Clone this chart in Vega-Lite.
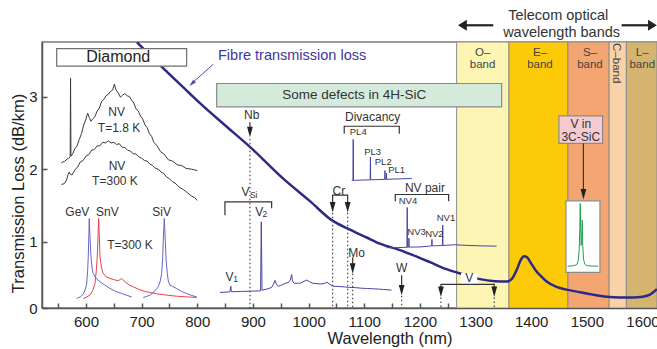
{
"$schema": "https://vega.github.io/schema/vega-lite/v6.json",
"width": 615, "height": 266,
"autosize": {"type": "none"},
"padding": {"left": 42, "top": 42, "right": 0, "bottom": 41},
"config": {"font": "Liberation Sans", "view": {"stroke": "#7a7a7a", "strokeWidth": 1.5}},
"datasets": {
"bands": [
{"b":"O","x":1266,"x2":1360},{"b":"E","x":1360,"x2":1466},{"b":"S","x":1466,"x2":1540},{"b":"C","x":1540,"x2":1571},{"b":"L","x":1571,"x2":1626}
],
"fibre": [
{"x":691.6,"y":3.747},{"x":733,"y":3.431},{"x":785,"y":3.052},{"x":804.8,"y":2.908},{"x":849.7,"y":2.605},{"x":894.6,"y":2.307},{"x":957.5,"y":1.849},{"x":1002.4,"y":1.56},{"x":1041.4,"y":1.299},{"x":1074.3,"y":1.168},{"x":1104.3,"y":1.06},{"x":1128.2,"y":0.975},{"x":1164.1,"y":0.886},{"x":1187.5,"y":0.817},{"x":1218,"y":0.721},{"x":1248,"y":0.624},{"x":1277.9,"y":0.552},{"x":1308,"y":0.487},{"x":1334.9,"y":0.459},{"x":1355.8,"y":0.453},{"x":1364.8,"y":0.487},{"x":1374.4,"y":0.624},{"x":1381.5,"y":0.755},{"x":1386.9,"y":0.803},{"x":1392.3,"y":0.79},{"x":1399.5,"y":0.707},{"x":1408.5,"y":0.604},{"x":1417.5,"y":0.528},{"x":1428.2,"y":0.45},{"x":1445.6,"y":0.381},{"x":1463.6,"y":0.343},{"x":1487.5,"y":0.308},{"x":1510.9,"y":0.274},{"x":1535.5,"y":0.246},{"x":1559.4,"y":0.235},{"x":1582.7,"y":0.235},{"x":1600.7,"y":0.246},{"x":1613.3,"y":0.274},{"x":1625.9,"y":0.349}
],
"boxes": [
{"id":"diamond","x":547.4,"x2":780.9,"y":3.66,"y2":3.417},
{"id":"sic","x":834.8,"x2":1346.9,"y":3.179,"y2":2.857},
{"id":"v3c","x":1449.8,"x2":1528.3,"y":2.733,"y2":2.354},
{"id":"inset","x":1462.4,"x2":1523.5,"y":1.564,"y2":0.579},
{"id":"vbox","x":1275,"x2":1302,"y":0.565,"y2":0.428}
],
"spec": [
{"s":"nv18","x":556,"y":2.09},{"s":"nv18","x":562,"y":2.11},{"s":"nv18","x":566,"y":2.14},{"s":"nv18","x":569,"y":2.15},{"s":"nv18","x":571.6,"y":2.17},{"s":"nv18","x":572.3,"y":3.25},{"s":"nv18","x":573,"y":2.18},{"s":"nv18","x":576,"y":2.21},{"s":"nv18","x":580,"y":2.28},{"s":"nv18","x":584,"y":2.32},{"s":"nv18","x":588,"y":2.41},{"s":"nv18","x":592,"y":2.49},{"s":"nv18","x":596,"y":2.61},{"s":"nv18","x":600,"y":2.69},{"s":"nv18","x":603,"y":2.77},{"s":"nv18","x":606,"y":2.71},{"s":"nv18","x":609,"y":2.66},{"s":"nv18","x":612,"y":2.69},{"s":"nv18","x":616,"y":2.72},{"s":"nv18","x":620,"y":2.80},{"s":"nv18","x":624,"y":2.84},{"s":"nv18","x":628,"y":2.93},{"s":"nv18","x":632,"y":2.96},{"s":"nv18","x":636,"y":3.01},{"s":"nv18","x":640,"y":3.03},{"s":"nv18","x":644,"y":3.07},{"s":"nv18","x":648,"y":3.09},{"s":"nv18","x":651,"y":3.17},{"s":"nv18","x":654,"y":3.09},{"s":"nv18","x":658,"y":3.05},{"s":"nv18","x":662,"y":2.99},{"s":"nv18","x":666,"y":3.02},{"s":"nv18","x":670,"y":3.04},{"s":"nv18","x":674,"y":3.01},{"s":"nv18","x":678,"y":3.00},{"s":"nv18","x":682,"y":2.95},{"s":"nv18","x":686,"y":2.91},{"s":"nv18","x":690,"y":2.83},{"s":"nv18","x":694,"y":2.80},{"s":"nv18","x":698,"y":2.73},{"s":"nv18","x":702,"y":2.69},{"s":"nv18","x":706,"y":2.61},{"s":"nv18","x":710,"y":2.57},{"s":"nv18","x":714,"y":2.49},{"s":"nv18","x":718,"y":2.45},{"s":"nv18","x":722,"y":2.37},{"s":"nv18","x":728,"y":2.32},{"s":"nv18","x":734,"y":2.24},{"s":"nv18","x":740,"y":2.21},{"s":"nv18","x":748,"y":2.13},{"s":"nv18","x":756,"y":2.11},{"s":"nv18","x":764,"y":2.06},{"s":"nv18","x":772,"y":2.05},{"s":"nv18","x":780,"y":2.01},{"s":"nv18","x":790,"y":2.00},{"s":"nv18","x":800,"y":1.98},
{"s":"nv300","x":556,"y":1.79},{"s":"nv300","x":561,"y":1.80},{"s":"nv300","x":565,"y":1.85},{"s":"nv300","x":568,"y":1.93},{"s":"nv300","x":570,"y":1.96},{"s":"nv300","x":572,"y":1.93},{"s":"nv300","x":575,"y":1.92},{"s":"nv300","x":580,"y":1.99},{"s":"nv300","x":585,"y":2.03},{"s":"nv300","x":590,"y":2.10},{"s":"nv300","x":595,"y":2.12},{"s":"nv300","x":600,"y":2.18},{"s":"nv300","x":605,"y":2.20},{"s":"nv300","x":610,"y":2.26},{"s":"nv300","x":615,"y":2.27},{"s":"nv300","x":620,"y":2.32},{"s":"nv300","x":625,"y":2.32},{"s":"nv300","x":630,"y":2.37},{"s":"nv300","x":635,"y":2.36},{"s":"nv300","x":640,"y":2.39},{"s":"nv300","x":645,"y":2.36},{"s":"nv300","x":650,"y":2.37},{"s":"nv300","x":655,"y":2.34},{"s":"nv300","x":660,"y":2.35},{"s":"nv300","x":665,"y":2.30},{"s":"nv300","x":670,"y":2.30},{"s":"nv300","x":675,"y":2.26},{"s":"nv300","x":680,"y":2.25},{"s":"nv300","x":685,"y":2.21},{"s":"nv300","x":690,"y":2.21},{"s":"nv300","x":695,"y":2.17},{"s":"nv300","x":700,"y":2.15},{"s":"nv300","x":705,"y":2.12},{"s":"nv300","x":710,"y":2.11},{"s":"nv300","x":715,"y":2.07},{"s":"nv300","x":720,"y":2.05},{"s":"nv300","x":725,"y":2.01},{"s":"nv300","x":730,"y":2.00},{"s":"nv300","x":735,"y":1.96},{"s":"nv300","x":740,"y":1.94},{"s":"nv300","x":745,"y":1.89},{"s":"nv300","x":750,"y":1.87},{"s":"nv300","x":755,"y":1.83},{"s":"nv300","x":760,"y":1.81},{"s":"nv300","x":765,"y":1.77},{"s":"nv300","x":770,"y":1.74},{"s":"nv300","x":775,"y":1.72},{"s":"nv300","x":780,"y":1.69},{"s":"nv300","x":785,"y":1.66},{"s":"nv300","x":790,"y":1.63},{"s":"nv300","x":795,"y":1.61},{"s":"nv300","x":800,"y":1.57},
{"s":"gev","x":583.3,"y":0.221},{"s":"gev","x":590,"y":0.245},{"s":"gev","x":595.1,"y":0.281},{"s":"gev","x":599,"y":0.35},{"s":"gev","x":601.3,"y":0.428},{"s":"gev","x":603,"y":0.6},{"s":"gev","x":604.1,"y":0.794},{"s":"gev","x":605.2,"y":1.1},{"s":"gev","x":605.9,"y":1.322},{"s":"gev","x":607,"y":1.1},{"s":"gev","x":609,"y":0.794},{"s":"gev","x":611,"y":0.64},{"s":"gev","x":613.1,"y":0.565},{"s":"gev","x":618,"y":0.5},{"s":"gev","x":625.2,"y":0.45},{"s":"gev","x":633,"y":0.41},{"s":"gev","x":643.1,"y":0.359},{"s":"gev","x":653,"y":0.32},{"s":"gev","x":664.1,"y":0.29},{"s":"gev","x":673,"y":0.265},{"s":"gev","x":682.1,"y":0.243},
{"s":"snv","x":595.1,"y":0.221},{"s":"snv","x":601,"y":0.24},{"s":"snv","x":607.2,"y":0.267},{"s":"snv","x":612,"y":0.33},{"s":"snv","x":616.2,"y":0.428},{"s":"snv","x":618.5,"y":0.6},{"s":"snv","x":620.3,"y":0.794},{"s":"snv","x":621.8,"y":1.1},{"s":"snv","x":622.8,"y":1.322},{"s":"snv","x":623.8,"y":1.1},{"s":"snv","x":625.2,"y":0.794},{"s":"snv","x":628,"y":0.64},{"s":"snv","x":631.1,"y":0.565},{"s":"snv","x":636,"y":0.52},{"s":"snv","x":643.1,"y":0.497},{"s":"snv","x":650,"y":0.48},{"s":"snv","x":658,"y":0.464},{"s":"snv","x":664.1,"y":0.497},{"s":"snv","x":670.1,"y":0.45},{"s":"snv","x":677,"y":0.41},{"s":"snv","x":685,"y":0.381},{"s":"snv","x":697,"y":0.34},{"s":"snv","x":709.1,"y":0.312},{"s":"snv","x":727,"y":0.285},{"s":"snv","x":745,"y":0.267},{"s":"snv","x":763,"y":0.252},{"s":"snv","x":781,"y":0.243},{"s":"snv","x":798.9,"y":0.235},
{"s":"siv","x":702.9,"y":0.235},{"s":"siv","x":709,"y":0.25},{"s":"siv","x":715,"y":0.267},{"s":"siv","x":722,"y":0.31},{"s":"siv","x":729.9,"y":0.381},{"s":"siv","x":733.5,"y":0.46},{"s":"siv","x":736,"y":0.565},{"s":"siv","x":738,"y":0.8},{"s":"siv","x":738.9,"y":1.023},{"s":"siv","x":740.7,"y":1.322},{"s":"siv","x":742.5,"y":1.023},{"s":"siv","x":744,"y":0.75},{"s":"siv","x":746.1,"y":0.565},{"s":"siv","x":748,"y":0.46},{"s":"siv","x":750.9,"y":0.404},{"s":"siv","x":756,"y":0.385},{"s":"siv","x":762.9,"y":0.359},{"s":"siv","x":771,"y":0.32},{"s":"siv","x":781,"y":0.29},{"s":"siv","x":790,"y":0.262},{"s":"siv","x":798.9,"y":0.243},
{"s":"sic","x":840.7,"y":0.304},{"s":"sic","x":850,"y":0.308},{"s":"sic","x":858.5,"y":0.312},{"s":"sic","x":860.3,"y":0.39},{"s":"sic","x":861.2,"y":0.314},{"s":"sic","x":880,"y":0.318},{"s":"sic","x":900,"y":0.322},{"s":"sic","x":913.8,"y":0.326},{"s":"sic","x":915,"y":1.275},{"s":"sic","x":916.3,"y":0.335},{"s":"sic","x":925,"y":0.35},{"s":"sic","x":933.6,"y":0.373},{"s":"sic","x":937,"y":0.42},{"s":"sic","x":939.6,"y":0.47},{"s":"sic","x":942,"y":0.42},{"s":"sic","x":945.5,"y":0.39},{"s":"sic","x":950,"y":0.40},{"s":"sic","x":957.5,"y":0.428},{"s":"sic","x":963,"y":0.44},{"s":"sic","x":967,"y":0.47},{"s":"sic","x":969.6,"y":0.55},{"s":"sic","x":971,"y":0.46},{"s":"sic","x":974,"y":0.43},{"s":"sic","x":980,"y":0.43},{"s":"sic","x":985,"y":0.432},{"s":"sic","x":990,"y":0.45},{"s":"sic","x":996.5,"y":0.475},{"s":"sic","x":1002,"y":0.45},{"s":"sic","x":1008,"y":0.43},{"s":"sic","x":1015,"y":0.425},{"s":"sic","x":1022,"y":0.42},{"s":"sic","x":1029,"y":0.43},{"s":"sic","x":1033,"y":0.445},{"s":"sic","x":1037,"y":0.42},{"s":"sic","x":1044,"y":0.39},{"s":"sic","x":1055,"y":0.385},{"s":"sic","x":1065,"y":0.38},{"s":"sic","x":1074,"y":0.373},{"s":"sic","x":1085,"y":0.37},{"s":"sic","x":1095,"y":0.362},{"s":"sic","x":1104,"y":0.359},{"s":"sic","x":1115,"y":0.355},{"s":"sic","x":1125,"y":0.35},{"s":"sic","x":1135,"y":0.345},{"s":"sic","x":1149,"y":0.336},
{"s":"div","x":1077.4,"y":1.842},{"s":"div","x":1079.7,"y":1.845},{"s":"div","x":1080.2,"y":2.41},{"s":"div","x":1080.7,"y":1.846},{"s":"div","x":1095,"y":1.85},{"s":"div","x":1110.6,"y":1.853},{"s":"div","x":1111.1,"y":2.165},{"s":"div","x":1111.6,"y":1.854},{"s":"div","x":1125,"y":1.857},{"s":"div","x":1136.8,"y":1.86},{"s":"div","x":1137.2,"y":1.98},{"s":"div","x":1137.6,"y":1.86},{"s":"div","x":1139.5,"y":1.861},{"s":"div","x":1139.9,"y":1.945},{"s":"div","x":1140.3,"y":1.861},{"s":"div","x":1160,"y":1.866},{"s":"div","x":1185.2,"y":1.872},
{"s":"nvp","x":1140.2,"y":0.92},{"s":"nvp","x":1160,"y":0.922},{"s":"nvp","x":1176.8,"y":0.925},{"s":"nvp","x":1177.2,"y":1.473},{"s":"nvp","x":1177.6,"y":0.926},{"s":"nvp","x":1179.9,"y":0.927},{"s":"nvp","x":1180.3,"y":1.051},{"s":"nvp","x":1180.7,"y":0.928},{"s":"nvp","x":1200,"y":0.93},{"s":"nvp","x":1215,"y":0.94},{"s":"nvp","x":1221.2,"y":0.945},{"s":"nvp","x":1221.6,"y":1.033},{"s":"nvp","x":1222,"y":0.945},{"s":"nvp","x":1230,"y":0.947},{"s":"nvp","x":1240.6,"y":0.95},{"s":"nvp","x":1241,"y":1.23},{"s":"nvp","x":1241.4,"y":0.95},{"s":"nvp","x":1250,"y":0.955},{"s":"nvp","x":1262,"y":0.96},{"s":"nvp","x":1275,"y":0.955},{"s":"nvp","x":1290,"y":0.95},{"s":"nvp","x":1310,"y":0.945},{"s":"nvp","x":1337.8,"y":0.941},
{"s":"v3c","x":1465.4,"y":0.666},{"s":"v3c","x":1472,"y":0.668},{"s":"v3c","x":1478,"y":0.675},{"s":"v3c","x":1482,"y":0.69},{"s":"v3c","x":1484.5,"y":0.74},{"s":"v3c","x":1486.3,"y":0.9},{"s":"v3c","x":1487.3,"y":1.2},{"s":"v3c","x":1488.1,"y":1.528},{"s":"v3c","x":1488.9,"y":1.2},{"s":"v3c","x":1489.7,"y":0.95},{"s":"v3c","x":1490.6,"y":1.0},{"s":"v3c","x":1491.7,"y":1.298},{"s":"v3c","x":1492.6,"y":0.95},{"s":"v3c","x":1494,"y":0.76},{"s":"v3c","x":1496.5,"y":0.69},{"s":"v3c","x":1500,"y":0.672},{"s":"v3c","x":1510,"y":0.667},{"s":"v3c","x":1520.4,"y":0.666}
],
"segs": [
{"id":"nb","o":1,"x":894.6,"y":2.646},{"id":"nb","o":2,"x":894.6,"y":2.56},
{"id":"cr","o":1,"x":1043.2,"y":1.53},{"id":"cr","o":2,"x":1043.2,"y":1.643},{"id":"cr","o":3,"x":1070.2,"y":1.643},{"id":"cr","o":4,"x":1070.2,"y":1.53},
{"id":"mo","o":1,"x":1079.2,"y":0.79},{"id":"mo","o":2,"x":1079.2,"y":0.69},
{"id":"w","o":1,"x":1167.2,"y":0.542},{"id":"w","o":2,"x":1167.2,"y":0.40},
{"id":"v","o":1,"x":1237.8,"y":0.37},{"id":"v","o":2,"x":1237.8,"y":0.414},{"id":"v","o":3,"x":1333.6,"y":0.414},{"id":"v","o":4,"x":1333.6,"y":0.37},
{"id":"v3","o":1,"x":1493.8,"y":2.354},{"id":"v3","o":2,"x":1493.8,"y":1.72},
{"id":"vsi","o":1,"x":849.7,"y":1.367},{"id":"vsi","o":2,"x":849.7,"y":1.55},{"id":"vsi","o":3,"x":933.6,"y":1.55},{"id":"vsi","o":4,"x":933.6,"y":1.464},
{"id":"div","o":1,"x":1064,"y":2.488},{"id":"div","o":2,"x":1064,"y":2.591},{"id":"div","o":3,"x":1162.9,"y":2.591},{"id":"div","o":4,"x":1162.9,"y":2.488},
{"id":"nvp","o":1,"x":1155.7,"y":1.56},{"id":"nvp","o":2,"x":1155.7,"y":1.652},{"id":"nvp","o":3,"x":1251.6,"y":1.652},{"id":"nvp","o":4,"x":1251.6,"y":1.56}
],
"tsegs": [
{"id":"tl","o":1,"x":1331.8,"y":3.98},{"id":"tl","o":2,"x":1282,"y":3.98},
{"id":"tr","o":1,"x":1562.4,"y":3.98},{"id":"tr","o":2,"x":1612,"y":3.98}
],
"fsegs": [
{"id":"fib","o":1,"x":828.7,"y":3.444},{"id":"fib","o":2,"x":793,"y":3.2}
],
"dots": [
{"id":"nb","o":1,"x":894.6,"y":2.42},{"id":"nb","o":2,"x":894.6,"y":0.09},
{"id":"cr1","o":1,"x":1043.2,"y":1.40},{"id":"cr1","o":2,"x":1043.2,"y":0.09},
{"id":"cr2","o":1,"x":1070.2,"y":1.40},{"id":"cr2","o":2,"x":1070.2,"y":0.09},
{"id":"mo","o":1,"x":1079.2,"y":0.56},{"id":"mo","o":2,"x":1079.2,"y":0.09},
{"id":"w","o":1,"x":1167.2,"y":0.26},{"id":"w","o":2,"x":1167.2,"y":0.09},
{"id":"v1","o":1,"x":1237.8,"y":0.235},{"id":"v1","o":2,"x":1237.8,"y":0.09},
{"id":"v2","o":1,"x":1333.6,"y":0.235},{"id":"v2","o":2,"x":1333.6,"y":0.09}
],
"heads": [
{"k":"down","x":894.6,"y":2.513},{"k":"down","x":1043.2,"y":1.477},{"k":"down","x":1070.2,"y":1.477},{"k":"down","x":1079.2,"y":0.634},{"k":"down","x":1167.2,"y":0.336},{"k":"down","x":1237.8,"y":0.312},{"k":"down","x":1333.6,"y":0.312},{"k":"down","x":1493.8,"y":1.656},
{"k":"left","x":1276.4,"y":3.98},{"k":"right","x":1617.8,"y":3.98},{"k":"fib","x":790.4,"y":3.179}
],
"texts": [
{"t":"Diamond","x":658,"y":3.541,"g":"big"},
{"t":"Some defects in 4H-SiC","x":1082,"y":3.017,"g":"sic"},
{"t":"Telecom optical","x":1448.5,"y":4.105,"g":"hdr"},
{"t":"wavelength bands","x":1454.6,"y":3.88,"g":"hdr"},
{"t":"O–","x":1312.7,"y":3.596,"g":"band"},{"t":"band","x":1312.7,"y":3.44,"g":"band"},
{"t":"E–","x":1415.7,"y":3.596,"g":"band"},{"t":"band","x":1415.7,"y":3.44,"g":"band"},
{"t":"S–","x":1505.5,"y":3.596,"g":"band"},{"t":"band","x":1505.5,"y":3.44,"g":"band"},
{"t":"L–","x":1599.5,"y":3.596,"g":"band"},{"t":"band","x":1599.5,"y":3.44,"g":"band"},
{"t":"NV","x":655.2,"y":2.788,"g":"lab"},{"t":"T=1.8 K","x":659.3,"y":2.568,"g":"lab"},
{"t":"NV","x":655.7,"y":2.041,"g":"lab"},{"t":"T=300 K","x":652.1,"y":1.835,"g":"lab"},
{"t":"GeV","x":584.5,"y":1.413,"g":"lab"},{"t":"SnV","x":638.5,"y":1.413,"g":"lab"},{"t":"SiV","x":736,"y":1.413,"g":"lab"},{"t":"T=300 K","x":679.1,"y":0.955,"g":"lab"},
{"t":"Nb","x":897.7,"y":2.743,"g":"lab"},{"t":"Cr","x":1054.5,"y":1.702,"g":"lab"},{"t":"Mo","x":1086.3,"y":0.849,"g":"lab"},{"t":"W","x":1167.2,"y":0.634,"g":"lab"},{"t":"V","x":1288.6,"y":0.497,"g":"lab"},
{"t":"Divacancy","x":1115.1,"y":2.719,"g":"lab"},{"t":"NV pair","x":1209,"y":1.735,"g":"lab"},
{"t":"PL4","x":1089.2,"y":2.505,"g":"small"},{"t":"PL3","x":1115.1,"y":2.238,"g":"small"},{"t":"PL2","x":1134.1,"y":2.10,"g":"small"},{"t":"PL1","x":1158.2,"y":1.986,"g":"small"},
{"t":"NV4","x":1178.5,"y":1.564,"g":"small"},{"t":"NV3","x":1194,"y":1.138,"g":"small"},{"t":"NV2","x":1226,"y":1.102,"g":"small"},{"t":"NV1","x":1246.8,"y":1.322,"g":"small"},
{"t":"V in","x":1489,"y":2.619,"g":"v3c"},{"t":"3C-SiC","x":1489,"y":2.44,"g":"v3c"},
{"t":"V","x":886.6,"y":1.688,"g":"lab"},{"t":"V","x":911.5,"y":1.413,"g":"lab"},{"t":"V","x":857.8,"y":0.519,"g":"lab"},
{"t":"Si","x":901.3,"y":1.642,"g":"sub"},{"t":"2","x":921.6,"y":1.377,"g":"sub"},{"t":"1","x":869,"y":0.483,"g":"sub"}
],
"fibtext": [{"t":"Fibre transmission loss","x":837.2,"y":3.555}],
"ctext": [{"t":"C–band","x":1553,"y":3.458}]
},
"encoding": {
"x": {"field":"x","type":"quantitative","scale":{"domain":[521,1626],"nice":false,"zero":false},
 "axis":{"values":[550,600,650,700,750,800,850,900,950,1000,1050,1100,1150,1200,1250,1300,1350,1400,1450,1500,1550,1600],"format":"d","labelExpr":"datum.value % 100 === 0 ? datum.label : ''","grid":false,"tickSize":-5,"tickWidth":1.5,"tickColor":"#555","domainColor":"#555","domainWidth":1.5,"labelFontSize":15,"labelColor":"#222","labelPadding":11,"title":"Wavelength (nm)","titleFontSize":16.5,"titleFontWeight":"normal","titleColor":"#222","titleX":347.5,"titleY":30,"titleBaseline":"middle"}}
},
"layer": [
{"data":{"name":"bands"},"mark":{"type":"rect","stroke":"#8c8c8c","strokeWidth":1,"clip":true},
 "encoding":{"x2":{"field":"x2"},
 "fill":{"field":"b","type":"nominal","scale":{"domain":["O","E","S","C","L"],"range":["#fdf5b4","#fcca08","#f3a671","#f9d3a7","#d5b46f"]},"legend":null}}},
{"data":{"name":"fibre"},"mark":{"type":"line","color":"#2d2a86","strokeWidth":2.5,"interpolate":"monotone","clip":true},
 "encoding":{"y":{"field":"y","type":"quantitative","scale":{"domain":[0.09,3.75],"nice":false,"zero":false},
 "axis":{"values":[0.09,0.5,1,1.5,2,2.5,3,3.5],"labelExpr":"datum.value < 0.2 ? '0' : (datum.value % 1 === 0 ? format(datum.value,'d') : '')","grid":false,"tickSize":-5,"tickWidth":1.5,"tickColor":"#555","domainColor":"#555","domainWidth":1.5,"labelFontSize":15,"labelColor":"#222","labelPadding":10,"title":"Transmission Loss (dB/km)","titleFontSize":16.5,"titleFontWeight":"normal","titleColor":"#222","titleX":-24,"titleY":151,"titleBaseline":"middle","titleAngle":-90}}}},
{"data":{"name":"boxes"},"mark":{"type":"rect","strokeWidth":1.2},
 "encoding":{"y":{"field":"y","type":"quantitative"},"x2":{"field":"x2"},"y2":{"field":"y2"},
 "fill":{"field":"id","type":"nominal","scale":{"domain":["diamond","sic","v3c","inset","vbox"],"range":["#ffffff","#d4ebdb","#f6cad1","#ffffff","#ffffff"]},"legend":null},
 "stroke":{"field":"id","type":"nominal","scale":{"domain":["diamond","sic","v3c","inset","vbox"],"range":["#6e6e6e","#8a8a8a","#8a8a8a","#8a8a8a","#ffffff"]},"legend":null}}},
{"data":{"name":"spec"},"mark":{"type":"line","strokeWidth":1},
 "encoding":{"y":{"field":"y","type":"quantitative"},"detail":{"field":"s"},
 "stroke":{"field":"s","type":"nominal","scale":{"domain":["nv18","nv300","gev","snv","siv","sic","div","nvp","v3c"],"range":["#3a3a3a","#3a3a3a","#6666c6","#e8414b","#6666c6","#4545a8","#4545a8","#4545a8","#1fa04f"]},"legend":null}}},
{"data":{"name":"dots"},"mark":{"type":"line","color":"#444","strokeWidth":1.2,"strokeDash":[1.5,2.5]},
 "encoding":{"y":{"field":"y","type":"quantitative"},"detail":{"field":"id"},"order":{"field":"o","type":"quantitative"}}},
{"data":{"name":"segs"},"mark":{"type":"line","color":"#333","strokeWidth":1.2},
 "encoding":{"y":{"field":"y","type":"quantitative"},"detail":{"field":"id"},"order":{"field":"o","type":"quantitative"}}},
{"data":{"name":"tsegs"},"mark":{"type":"line","color":"#222","strokeWidth":2.2},
 "encoding":{"y":{"field":"y","type":"quantitative"},"detail":{"field":"id"},"order":{"field":"o","type":"quantitative"}}},
{"data":{"name":"fsegs"},"mark":{"type":"line","color":"#4b47a6","strokeWidth":1},
 "encoding":{"y":{"field":"y","type":"quantitative"},"detail":{"field":"id"},"order":{"field":"o","type":"quantitative"}}},
{"data":{"name":"heads"},"transform":[{"filter":"datum.k === 'down'"}],"mark":{"type":"point","filled":true,"color":"#222","opacity":1,"size":110,"shape":"M-0.55,-1L0.55,-1L0,1Z"},"encoding":{"y":{"field":"y","type":"quantitative"}}},
{"data":{"name":"heads"},"transform":[{"filter":"datum.k === 'left'"}],"mark":{"type":"point","filled":true,"color":"#222","opacity":1,"size":121,"shape":"M0.8,-1L0.8,1L-0.8,0Z"},"encoding":{"y":{"field":"y","type":"quantitative"}}},
{"data":{"name":"heads"},"transform":[{"filter":"datum.k === 'right'"}],"mark":{"type":"point","filled":true,"color":"#222","opacity":1,"size":121,"shape":"M-0.8,-1L-0.8,1L0.8,0Z"},"encoding":{"y":{"field":"y","type":"quantitative"}}},
{"data":{"name":"heads"},"transform":[{"filter":"datum.k === 'fib'"}],"mark":{"type":"point","filled":true,"color":"#4b47a6","opacity":1,"size":50,"angle":227,"shape":"M-0.55,1L0.55,1L0,-1Z"},"encoding":{"y":{"field":"y","type":"quantitative"}}},
{"data":{"name":"texts"},"mark":{"type":"text","align":"center","baseline":"middle"},
 "encoding":{"y":{"field":"y","type":"quantitative"},"text":{"field":"t"},
 "size":{"field":"g","type":"nominal","scale":{"type":"ordinal","domain":["big","sic","hdr","band","lab","small","v3c","sub"],"range":[16,13.5,14.5,11.5,12,9.5,12,8.5]},"legend":null},
 "fill":{"field":"g","type":"nominal","scale":{"domain":["big","sic","hdr","band","lab","small","v3c","sub"],"range":["#222","#333","#333","#444","#333","#333","#333","#333"]},"legend":null}}},
{"data":{"name":"fibtext"},"mark":{"type":"text","align":"left","baseline":"middle","fontSize":14.5,"color":"#3d3799"},"encoding":{"y":{"field":"y","type":"quantitative"},"text":{"field":"t"}}},
{"data":{"name":"ctext"},"mark":{"type":"text","align":"center","baseline":"middle","fontSize":11.5,"color":"#444","angle":90},"encoding":{"y":{"field":"y","type":"quantitative"},"text":{"field":"t"}}}
],
"resolve": {"scale": {"fill":"independent","stroke":"independent","size":"independent","color":"independent"}}
}
